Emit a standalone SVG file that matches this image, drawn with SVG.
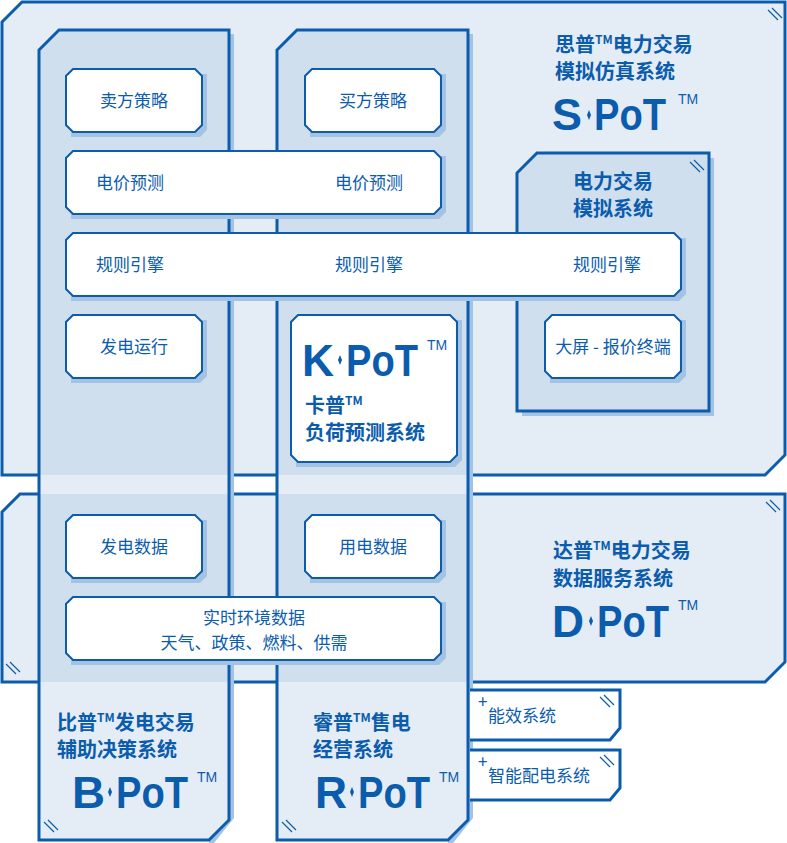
<svg xmlns="http://www.w3.org/2000/svg" width="787" height="843" viewBox="0 0 787 843">
<style>
.pan{fill:#e4ecf6;stroke:#0b5cad;stroke-width:3}
.dk{fill:#cfdfee}
.col{fill:none;stroke:#0b5cad;stroke-width:3}
.box{fill:#fff;stroke:#0b5cad;stroke-width:2}
.sh{fill:#a4c3e2}
.t{font-family:"Noto Sans CJK SC","Noto Sans",sans-serif;fill:#0b5cad;font-size:17px}
.h{font-family:"Noto Sans CJK SC","Noto Sans",sans-serif;fill:#0b5cad;font-size:20px;font-weight:bold}
.lg{font-family:"Liberation Sans","Noto Sans",sans-serif;fill:#0b5cad;font-size:44px;font-weight:bold}
.tm{font-family:"Liberation Sans",sans-serif;fill:#0b5cad;font-size:14px}
.hat{stroke:#0b5cad;stroke-width:1.2}
</style>
<defs>
<clipPath id="cl"><path d="M39,50 L59,30 H229 V820 L209,840 H39 Z M277,50 L297,30 H468 V820 L448,840 H277 Z"/></clipPath>
</defs>
<g id="panel-spot">
<path class="pan" d="M2,22 L22,2 H785 V455 L765,475 H2 Z"/>
<path class="hat" d="M768,10 L778,20 M772,8 L782,18"/>
<text class="h" x="555" y="52">思普<tspan font-size="12" dy="-8">TM</tspan><tspan dy="8">电力交易</tspan></text>
<text class="h" x="555" y="79">模拟仿真系统</text>
<text class="lg" x="552" y="130" textLength="30" lengthAdjust="spacingAndGlyphs">S</text>
<path d="M589,110 l2,5 -2,5 -2,-5 Z" fill="#0b5cad"/>
<text class="lg" x="594" y="130" textLength="72" lengthAdjust="spacingAndGlyphs">PoT</text>
<text class="tm" x="678" y="104">TM</text>
</g>
<g id="panel-dpot">
<path class="pan" d="M2,512 L20,494 H785 V662 L765,682 H2 Z"/>
<path class="hat" d="M766,502 L776,512 M770,500 L780,510 M6,664 L16,674 M10,662 L20,672"/>
<text class="h" x="553" y="558">达普<tspan font-size="12" dy="-8">TM</tspan><tspan dy="8">电力交易</tspan></text>
<text class="h" x="553" y="586">数据服务系统</text>
<text class="lg" x="552" y="637" textLength="32" lengthAdjust="spacingAndGlyphs">D</text>
<path d="M591,616 l2,5 -2,5 -2,-5 Z" fill="#0b5cad"/>
<text class="lg" x="597" y="637" textLength="72" lengthAdjust="spacingAndGlyphs">PoT</text>
<text class="tm" x="678" y="610">TM</text>
</g>
<g id="columns">
<path class="sh" d="M229,34 H234 V818 L214,843 H209 Z M468,34 H473 V818 L453,843 H448 Z"/>
<g clip-path="url(#cl)">
<rect x="0" y="0" width="787" height="843" fill="#e4ecf6"/>
<rect class="dk" x="0" y="0" width="787" height="475"/>
<rect class="dk" x="0" y="494" width="787" height="188"/>
</g>
<path class="col" d="M39,50 L59,30 H229 V820 L209,840 H39 Z"/>
<path class="col" d="M277,50 L297,30 H468 V820 L448,840 H277 Z"/>
<path class="hat" d="M44,822 L54,832 M48,820 L58,830 M282,822 L292,832 M286,820 L296,830"/>
</g>
<g id="panel-sim">
<path class="sh" d="M709,158 H714 V416 H522 V411 H709 Z"/>
<path fill="#cfdfee" stroke="#0b5cad" stroke-width="3" d="M517,173 L537,153 H709 V411 H517 Z"/>
<path class="hat" d="M690,162 L700,172 M694,160 L704,170"/>
<text class="h" x="613" y="189" text-anchor="middle">电力交易</text>
<text class="h" x="613" y="216" text-anchor="middle">模拟系统</text>
</g>
<g id="n-sell"><path class="sh" d="M78,74 H207 V130 L200,137 H71 V81 Z"/><path class="box" d="M73,69 H195 L202,76 V125 L195,132 H73 L66,125 V76 Z"/><text class="t" x="134" y="107" text-anchor="middle">卖方策略</text></g>
<g id="n-buy"><path class="sh" d="M317,74 H446 V130 L439,137 H310 V81 Z"/><path class="box" d="M312,69 H434 L441,76 V125 L434,132 H312 L305,125 V76 Z"/><text class="t" x="373" y="107" text-anchor="middle">买方策略</text></g>
<g id="n-price"><path class="sh" d="M78,156 H446 V212 L439,219 H71 V163 Z"/><path class="box" d="M73,151 H434 L441,158 V207 L434,214 H73 L66,207 V158 Z"/><text class="t" x="96" y="189">电价预测</text><text class="t" x="335" y="189">电价预测</text></g>
<g id="n-rule"><path class="sh" d="M78,238 H686 V294 L679,301 H71 V245 Z"/><path class="box" d="M73,233 H674 L681,240 V289 L674,296 H73 L66,289 V240 Z"/><text class="t" x="96" y="271">规则引擎</text><text class="t" x="335" y="271">规则引擎</text><text class="t" x="573" y="271">规则引擎</text></g>
<g id="n-gen"><path class="sh" d="M78,320 H207 V376 L200,383 H71 V327 Z"/><path class="box" d="M73,315 H195 L202,322 V371 L195,378 H73 L66,371 V322 Z"/><text class="t" x="134" y="353" text-anchor="middle">发电运行</text></g>
<g id="n-screen"><path class="sh" d="M557,320 H686 V376 L679,383 H550 V327 Z"/><path class="box" d="M552,315 H674 L681,322 V371 L674,378 H552 L545,371 V322 Z"/><text class="t" x="613" y="353" text-anchor="middle">大屏 - 报价终端</text></g>
<g id="n-kpot"><path class="sh" d="M303,320 H462 V460 L455,467 H296 V327 Z"/><path class="box" d="M298,315 H450 L457,322 V455 L450,462 H298 L291,455 V322 Z"/>
<text class="lg" x="302" y="376" textLength="32" lengthAdjust="spacingAndGlyphs">K</text>
<path d="M340,355 l2,5 -2,5 -2,-5 Z" fill="#0b5cad"/>
<text class="lg" x="346" y="376" textLength="72" lengthAdjust="spacingAndGlyphs">PoT</text>
<text class="tm" x="427" y="350">TM</text>
<text class="h" x="305" y="413">卡普<tspan font-size="12" dy="-8">TM</tspan></text>
<text class="h" x="305" y="440">负荷预测系统</text></g>
<g id="n-gdata"><path class="sh" d="M78,520 H207 V576 L200,583 H71 V527 Z"/><path class="box" d="M73,515 H195 L202,522 V571 L195,578 H73 L66,571 V522 Z"/><text class="t" x="134" y="553" text-anchor="middle">发电数据</text></g>
<g id="n-udata"><path class="sh" d="M317,520 H446 V576 L439,583 H310 V527 Z"/><path class="box" d="M312,515 H434 L441,522 V571 L434,578 H312 L305,571 V522 Z"/><text class="t" x="373" y="553" text-anchor="middle">用电数据</text></g>
<g id="n-env"><path class="sh" d="M78,602 H446 V658 L439,665 H71 V609 Z"/><path class="box" d="M73,597 H434 L441,604 V653 L434,660 H73 L66,653 V604 Z"/><text class="t" x="254" y="624" text-anchor="middle">实时环境数据</text><text class="t" x="254" y="649" text-anchor="middle">天气、政策、燃料、供需</text></g>
<g id="n-bpot">
<text class="h" x="57" y="730">比普<tspan font-size="12" dy="-8">TM</tspan><tspan dy="8">发电交易</tspan></text>
<text class="h" x="57" y="757">辅助决策系统</text>
<text class="lg" x="72" y="808" textLength="33" lengthAdjust="spacingAndGlyphs">B</text>
<path d="M110,787 l2,5 -2,5 -2,-5 Z" fill="#0b5cad"/>
<text class="lg" x="116" y="808" textLength="72" lengthAdjust="spacingAndGlyphs">PoT</text>
<text class="tm" x="197" y="782">TM</text></g>
<g id="n-rpot">
<text class="h" x="313" y="730">睿普<tspan font-size="12" dy="-8">TM</tspan><tspan dy="8">售电</tspan></text>
<text class="h" x="313" y="757">经营系统</text>
<text class="lg" x="315" y="808" textLength="32" lengthAdjust="spacingAndGlyphs">R</text>
<path d="M352,787 l2,5 -2,5 -2,-5 Z" fill="#0b5cad"/>
<text class="lg" x="358" y="808" textLength="72" lengthAdjust="spacingAndGlyphs">PoT</text>
<text class="tm" x="439" y="782">TM</text></g>
<g id="n-eff"><path fill="#fff" stroke="#0b5cad" stroke-width="3" d="M470,690 H620 V728 L610,740 H470"/><path class="hat" d="M600,697 L610,707 M604,695 L614,705"/><text class="t" x="478" y="708" font-size="13">+</text><text class="t" x="488" y="722">能效系统</text></g>
<g id="n-dist"><path fill="#fff" stroke="#0b5cad" stroke-width="3" d="M470,750 H620 V788 L610,800 H470"/><path class="hat" d="M600,757 L610,767 M604,755 L614,765"/><text class="t" x="478" y="768" font-size="13">+</text><text class="t" x="488" y="782">智能配电系统</text></g>
<g id="connectors"></g>
</svg>
